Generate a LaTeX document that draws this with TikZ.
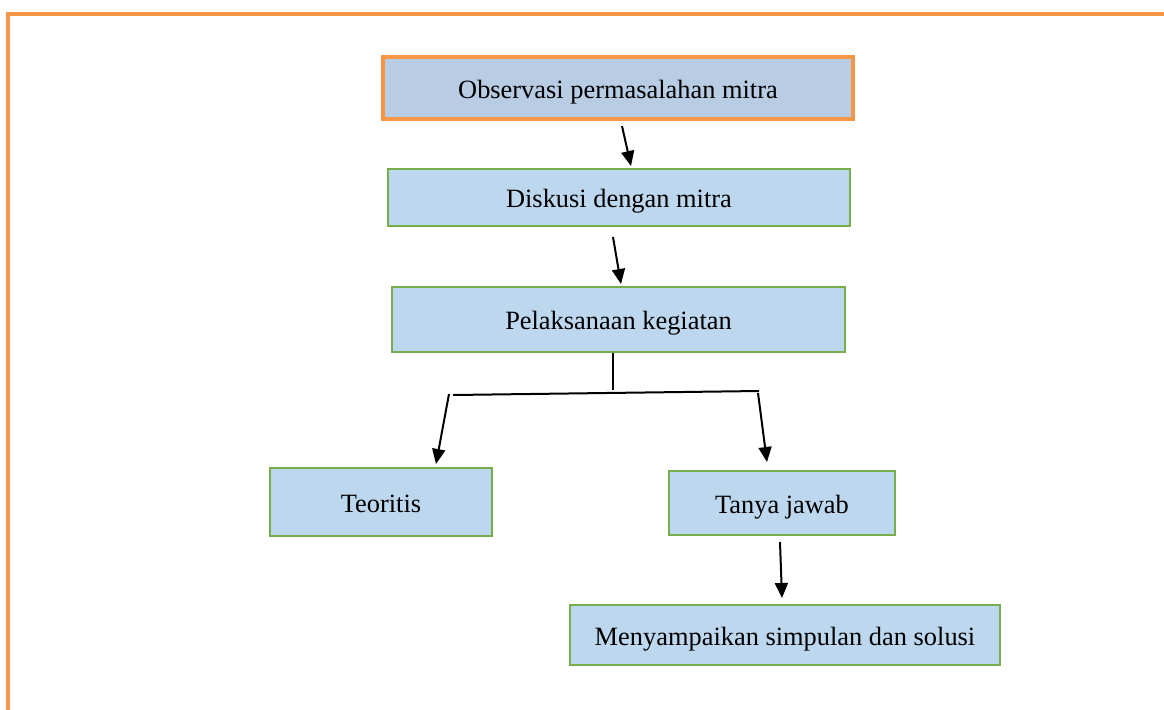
\documentclass[tikz,border=0pt]{standalone}
\usepackage{fontspec}
\setmainfont{Liberation Serif}
\usetikzlibrary{arrows.meta}
\definecolor{frameor}{HTML}{F79646}
\definecolor{boxgreen}{HTML}{77AD4B}
\definecolor{fillA}{HTML}{B8CCE4}
\definecolor{fillB}{HTML}{BDD7EE}
\tikzset{
  box/.style={draw=boxgreen, line width=1pt, fill=fillB, inner sep=0pt, text height=12pt, text depth=2pt, font=\fontsize{13.2}{16}\selectfont},
  topbox/.style={box, draw=frameor, line width=2pt, fill=fillA},
  arr/.style={line width=1pt, -{Triangle[length=7.5pt,width=6.5pt]}},
  ln/.style={line width=1pt}
}
\begin{document}
\begin{tikzpicture}[x=0.5pt,y=-0.5pt]
\useasboundingbox (0,0) rectangle (1164,709);
\draw[frameor, line width=2pt] (8,720) -- (8,14) -- (1175,14);
\node[topbox, minimum width=235pt, minimum height=31pt] (obs) at (618,88) {Observasi permasalahan mitra};
\node[box, minimum width=231pt, minimum height=28.5pt] (dis) at (619,197.5) {Diskusi dengan mitra};
\node[box, minimum width=226.5pt, minimum height=32.5pt] (pel) at (618.5,319.5) {Pelaksanaan kegiatan};
\node[box, minimum width=111pt, minimum height=34pt] (teo) at (381,502) {Teoritis};
\node[box, minimum width=113pt, minimum height=32pt] (tan) at (782,503) {Tanya jawab};
\node[box, minimum width=215pt, minimum height=30pt] (men) at (785,635) {Menyampaikan simpulan dan solusi};
\coordinate (a1s) at (622,126);
\coordinate (a1e) at (631,166);
\coordinate (a2s) at (613,237);
\coordinate (a2e) at (621,284);
\coordinate (jn) at (613,390);
\coordinate (hl) at (453,395);
\coordinate (hr) at (759,391);
\coordinate (ls) at (449,394);
\coordinate (le) at (436,464);
\coordinate (rs) at (758,393);
\coordinate (re) at (767,462);
\coordinate (bs) at (780,542);
\coordinate (be) at (782,598);
\draw[arr] (a1s) -- (a1e);
\draw[arr] (a2s) -- (a2e);
\draw[ln] (pel.south -| jn) -- (jn);
\draw[ln] (hl) -- (hr);
\draw[arr] (ls) -- (le);
\draw[arr] (rs) -- (re);
\draw[arr] (bs) -- (be);
\end{tikzpicture}
\end{document}
